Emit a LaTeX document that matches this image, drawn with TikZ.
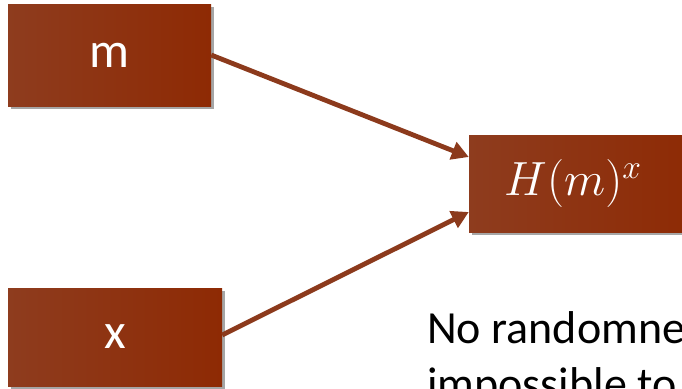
\RequirePackage{fix-cm}
\documentclass[tikz,border=0pt]{standalone}
\usepackage{fontspec}
\setmainfont{Carlito}
\usetikzlibrary{arrows.meta,shadows}
\definecolor{boxL}{RGB}{142,60,30}
\definecolor{boxM}{RGB}{156,50,8}
\definecolor{boxR}{RGB}{142,42,4}
\definecolor{arrowc}{RGB}{140,58,28}
\tikzset{
  redbox/.style={rectangle, minimum width=#1, inner sep=0pt,
    left color=boxL, middle color=boxM, right color=boxR,
    drop shadow={shadow xshift=3pt, shadow yshift=-3pt, opacity=0.35, fill=black},
    text=white, font=\fontsize{50}{56}\selectfont},
  conn/.style={draw=arrowc, line width=4.8pt, -{Triangle[length=17pt,width=18pt]}},
  note/.style={anchor=base west, inner sep=0pt, font=\fontsize{46}{56}\selectfont}
}
\begin{document}
\begin{tikzpicture}[x=1pt,y=-1pt]
\useasboundingbox (0,0) rectangle (682,388);
\clip (0,0) rectangle (682,388);
\fill[white] (0,0) rectangle (682,388);
\node[redbox=203pt, minimum height=102pt] (m) at (109.5,55) {\raisebox{-4pt}{m}};
\node[redbox=214pt, minimum height=98pt] (x) at (115,337) {\raisebox{-4pt}{x}};
\node[redbox=230pt, minimum height=97pt] (h) at (584,183.5) {\hspace*{-22pt}\fontsize{48}{52}\selectfont$H(m)^x$};
\coordinate (hin1) at ([yshift=26.5pt]h.west);
\coordinate (hin2) at ([yshift=-28.5pt]h.west);
\draw[conn] (m.east) -- (hin1);
\draw[conn] ([yshift=2pt]x.east) -- (hin2);
\node[note] (t1) at (427,343) {No randomness};
\node[note] (t2) at (427,399) {impossible to};
\end{tikzpicture}
\end{document}
